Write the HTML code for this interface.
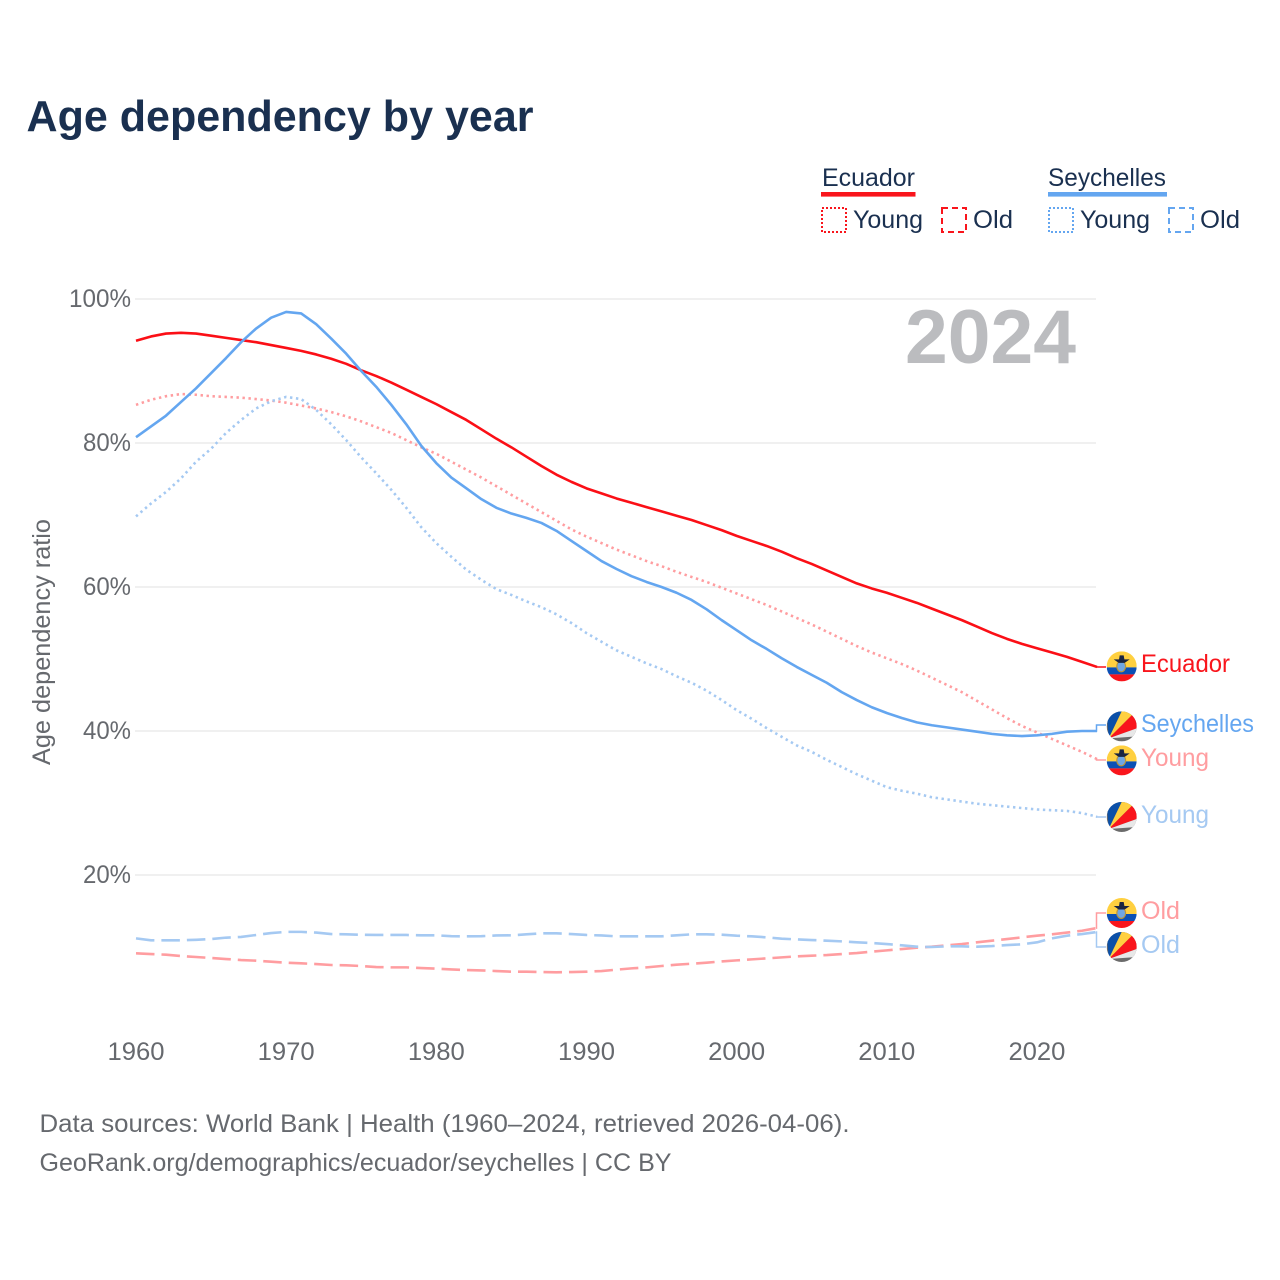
<!DOCTYPE html>
<html lang="en">
<head>
<meta charset="utf-8">
<title>Age dependency by year</title>
<style>
html,body{margin:0;padding:0;background:#fff;width:1280px;height:1280px;overflow:hidden}
svg{display:block}
text{font-family:"Liberation Sans",sans-serif}
.title{font-size:44px;font-weight:bold;fill:#1a3050}
.leg{font-size:25px;fill:#1a3050}
.tick{font-size:25px;fill:#66696e}
.end{font-size:25px}
.src{font-size:25px;fill:#66696e}
</style>
</head>
<body>
<svg id="chart" xmlns="http://www.w3.org/2000/svg" width="1280" height="1280" viewBox="0 0 1280 1280">
  <defs>
    <clipPath id="flag-clip"><circle cx="0" cy="0" r="15"/></clipPath>
    <g id="flag-ec" clip-path="url(#flag-clip)">
      <rect x="-15" y="-15" width="30" height="16" fill="#ffd040"/>
      <rect x="-15" y="1" width="30" height="7" fill="#0b50b5"/>
      <rect x="-15" y="8" width="30" height="7" fill="#f9151c"/>
      <ellipse cx="-0.5" cy="0" rx="5" ry="6" fill="#b9953c"/>
      <ellipse cx="-0.5" cy="0" rx="3.8" ry="4.8" fill="#6fa6e4"/>
      <path d="M-8,-7 L8,-7 L3,-3.5 L-3,-3.5 Z M-2,-11 L2,-11 L3,-5 L-3,-5 Z" fill="#1a2440"/>
    </g>
    <g id="flag-sc" clip-path="url(#flag-clip)">
      <rect x="-15" y="-15" width="30" height="30" fill="#6b6b6b"/>
      <polygon points="-13,12 -15,-15 0,-15" fill="#0b50a8"/>
      <polygon points="-13,12 0,-15 10,-15 10,-11" fill="#ffd040"/>
      <polygon points="-13,12 10,-11 10,-15 15,-15 15,2" fill="#f9151c"/>
      <polygon points="-13,12 15,2 15,10" fill="#e8e8e8"/>
    </g>
  </defs>

  <rect x="0" y="0" width="1280" height="1280" fill="#ffffff"/>
  <text class="title" x="26.5" y="131" textLength="507" lengthAdjust="spacingAndGlyphs">Age dependency by year</text>

  <g>
    <g>
      <text class="leg" x="822" y="186" textLength="93" lengthAdjust="spacingAndGlyphs">Ecuador</text>
      <rect x="821" y="192" width="94.5" height="4.6" fill="#f9151c"/>
      <rect x="822" y="208" width="24" height="24" fill="none" stroke="#f9151c" stroke-width="2" stroke-dasharray="2 2"/>
      <text class="leg" x="853" y="228" textLength="70" lengthAdjust="spacingAndGlyphs">Young</text>
      <rect x="942" y="208" width="24" height="24" fill="none" stroke="#f9151c" stroke-width="2" stroke-dasharray="6 4"/>
      <text class="leg" x="973" y="228" textLength="40" lengthAdjust="spacingAndGlyphs">Old</text>
    </g>
    <g>
      <text class="leg" x="1048" y="186" textLength="118" lengthAdjust="spacingAndGlyphs">Seychelles</text>
      <rect x="1048" y="192" width="119" height="4.6" fill="#64a6f0"/>
      <rect x="1049" y="208" width="24" height="24" fill="none" stroke="#64a6f0" stroke-width="2" stroke-dasharray="2 2"/>
      <text class="leg" x="1080" y="228" textLength="70" lengthAdjust="spacingAndGlyphs">Young</text>
      <rect x="1169" y="208" width="24" height="24" fill="none" stroke="#64a6f0" stroke-width="2" stroke-dasharray="6 4"/>
      <text class="leg" x="1200" y="228" textLength="40" lengthAdjust="spacingAndGlyphs">Old</text>
    </g>
  </g>

  <g id="grid"></g>
  <text x="905" y="363" font-size="76" font-weight="bold" fill="#bbbcbf" textLength="171" lengthAdjust="spacingAndGlyphs">2024</text>
  <g id="yticks"></g>
  <g id="xticks"></g>
  <text class="tick" transform="translate(50,765) rotate(-90)" x="0" y="0" textLength="246" lengthAdjust="spacingAndGlyphs">Age dependency ratio</text>
  <g id="series"></g>
  <g id="connectors"></g>

  <g>
    <use href="#flag-ec" x="1121.7" y="666.4"/>
    <text class="end" x="1141" y="672" fill="#f9151c" textLength="89" lengthAdjust="spacingAndGlyphs">Ecuador</text>
    <use href="#flag-sc" x="1121.7" y="726.4"/>
    <text class="end" x="1141" y="732" fill="#64a6f0" textLength="113" lengthAdjust="spacingAndGlyphs">Seychelles</text>
    <use href="#flag-ec" x="1121.7" y="760.4"/>
    <text class="end" x="1141" y="766" fill="#ff9da0" textLength="68" lengthAdjust="spacingAndGlyphs">Young</text>
    <use href="#flag-sc" x="1121.7" y="817"/>
    <text class="end" x="1141" y="823" fill="#a5c9f2" textLength="68" lengthAdjust="spacingAndGlyphs">Young</text>
    <use href="#flag-ec" x="1121.7" y="913"/>
    <text class="end" x="1141" y="919" fill="#ff9da0" textLength="39" lengthAdjust="spacingAndGlyphs">Old</text>
    <use href="#flag-sc" x="1121.7" y="947"/>
    <text class="end" x="1141" y="953" fill="#a5c9f2" textLength="39" lengthAdjust="spacingAndGlyphs">Old</text>
  </g>

  <text class="src" x="39.5" y="1132" textLength="810" lengthAdjust="spacingAndGlyphs">Data sources: World Bank | Health (1960–2024, retrieved 2026-04-06).</text>
  <text class="src" x="39.5" y="1171" textLength="632" lengthAdjust="spacingAndGlyphs">GeoRank.org/demographics/ecuador/seychelles | CC BY</text>
</svg>

<script>
const startYear = 1960;
const xTickLabels = [1960, 1970, 1980, 1990, 2000, 2010, 2020];
const yTickValues = [100, 80, 60, 40, 20];

const ecuadorTotal = [94.2,94.8,95.2,95.3,95.2,94.9,94.6,94.3,94.0,93.6,93.2,92.8,92.3,91.7,91.0,90.1,89.3,88.4,87.4,86.4,85.4,84.3,83.2,81.9,80.6,79.4,78.1,76.8,75.6,74.6,73.7,73.0,72.3,71.7,71.1,70.5,69.9,69.3,68.6,67.9,67.1,66.4,65.7,64.9,64.0,63.2,62.3,61.4,60.5,59.8,59.2,58.5,57.8,57.0,56.2,55.4,54.5,53.6,52.8,52.1,51.5,50.9,50.3,49.6,48.9];
const ecuadorYoung = [85.3,86.0,86.5,86.8,86.7,86.5,86.4,86.3,86.1,85.9,85.6,85.2,84.8,84.3,83.7,83.0,82.2,81.4,80.4,79.4,78.5,77.4,76.3,75.2,74.0,72.8,71.6,70.4,69.2,68.0,67.0,66.1,65.2,64.4,63.6,62.9,62.1,61.4,60.7,59.9,59.1,58.3,57.5,56.6,55.7,54.8,53.8,52.8,51.8,50.9,50.1,49.3,48.4,47.4,46.4,45.4,44.2,43.0,41.8,40.7,39.8,38.9,38.0,37.1,36.1];
const ecuadorOld = [9.12,9.02,8.93,8.75,8.61,8.47,8.33,8.19,8.10,7.96,7.82,7.73,7.63,7.50,7.45,7.36,7.22,7.17,7.17,7.08,6.99,6.89,6.80,6.75,6.66,6.57,6.57,6.52,6.48,6.52,6.57,6.66,6.85,7.03,7.17,7.36,7.54,7.68,7.82,8.00,8.14,8.28,8.42,8.56,8.70,8.79,8.88,9.02,9.16,9.35,9.53,9.72,9.90,10.04,10.23,10.41,10.65,10.88,11.10,11.34,11.57,11.76,12.00,12.26,12.63];
const seychellesTotal = [80.8,82.3,83.8,85.7,87.6,89.7,91.8,94.0,95.9,97.4,98.2,98.0,96.5,94.5,92.4,90.0,87.8,85.3,82.6,79.6,77.2,75.2,73.7,72.2,71.0,70.2,69.6,68.9,67.8,66.4,65.0,63.6,62.5,61.5,60.7,60.0,59.2,58.2,56.9,55.4,54.0,52.6,51.4,50.1,48.9,47.8,46.7,45.4,44.3,43.3,42.5,41.8,41.2,40.8,40.5,40.2,39.9,39.6,39.4,39.3,39.4,39.6,39.9,40.0,40.0];
const seychellesYoung = [69.8,71.6,73.2,75.1,77.4,79.2,81.4,83.2,84.8,85.8,86.4,86.1,84.6,82.6,80.4,78.0,75.8,73.5,71.0,68.3,66.1,64.2,62.4,61.0,59.7,58.9,58.0,57.2,56.2,55.0,53.6,52.4,51.2,50.3,49.4,48.6,47.6,46.7,45.6,44.3,42.9,41.7,40.4,39.2,38.0,37.1,36.0,35.0,34.0,33.1,32.2,31.7,31.3,30.8,30.5,30.2,29.9,29.7,29.5,29.3,29.1,29.0,28.9,28.6,28.1];
const seychellesOld = [11.20,10.93,10.93,10.93,11.00,11.10,11.30,11.40,11.67,11.94,12.10,12.10,12.00,11.80,11.76,11.70,11.67,11.67,11.67,11.62,11.62,11.50,11.48,11.50,11.60,11.62,11.76,11.90,11.90,11.80,11.67,11.60,11.48,11.48,11.48,11.48,11.62,11.76,11.76,11.71,11.57,11.48,11.34,11.15,11.06,10.97,10.88,10.78,10.65,10.55,10.41,10.23,10.04,10.00,10.09,10.09,10.04,10.13,10.27,10.37,10.65,11.20,11.57,11.80,12.08];

const SVGNS = 'http://www.w3.org/2000/svg';
function xScale(year) { return 136 + (year - 1960) * (1097 - 136) / 64; }
function yScale(value) { return 1019 - value * 7.2; }
function node(tag, parent) {
  const el = document.createElementNS(SVGNS, tag);
  parent.appendChild(el);
  return el;
}

const gridGroup = document.getElementById('grid');
const yTickGroup = document.getElementById('yticks');
yTickValues.forEach(function (v) {
  const line = node('line', gridGroup);
  
  
  line.setAttribute('x1', xScale(1960) - 1);
  line.setAttribute('x2', xScale(2024) - 1);
  line.setAttribute('y1', yScale(v));
  line.setAttribute('y2', yScale(v));
  line.setAttribute('stroke', '#ececec');
  line.setAttribute('stroke-width', '1.6');
  const label = node('text', yTickGroup);
  
  
  label.setAttribute('class', 'tick');
  label.setAttribute('x', 131);
  label.setAttribute('y', yScale(v) + 8);
  label.setAttribute('text-anchor', 'end');
  label.setAttribute('textLength', v === 100 ? 62 : 48);
  label.setAttribute('lengthAdjust', 'spacingAndGlyphs');
  label.textContent = v + '%';
});

const xTickGroup = document.getElementById('xticks');
xTickLabels.forEach(function (yr) {
  const label = node('text', xTickGroup);
  
  
  label.setAttribute('class', 'tick');
  label.setAttribute('x', xScale(yr));
  label.setAttribute('y', 1060);
  label.setAttribute('text-anchor', 'middle');
  label.setAttribute('textLength', 57);
  label.setAttribute('lengthAdjust', 'spacingAndGlyphs');
  label.textContent = yr;
});

function linePath(values) {
  return values.map(function (v, i) {
    return (i ? 'L' : 'M') + xScale(startYear + i).toFixed(2) + ',' + yScale(v).toFixed(2);
  }).join(' ');
}

const seriesGroup = document.getElementById('series');
function drawSeries(name, values, color, width, dash) {
  const path = node('path', seriesGroup);
  
  
  path.setAttribute('d', linePath(values));
  path.setAttribute('fill', 'none');
  path.setAttribute('stroke', color);
  path.setAttribute('stroke-width', width);
  path.setAttribute('stroke-linejoin', 'round');
  if (dash) path.setAttribute('stroke-dasharray', dash);
}
drawSeries('line-ecuador-old', ecuadorOld, '#ff9da0', 2.6, '18.5 7');
drawSeries('line-seychelles-old', seychellesOld, '#a5c9f2', 2.6, '18.5 7');
drawSeries('line-ecuador-young', ecuadorYoung, '#ff9da0', 2.6, '2.4 3.6');
drawSeries('line-seychelles-young', seychellesYoung, '#a5c9f2', 2.6, '2.4 3.6');
drawSeries('line-ecuador-total', ecuadorTotal, '#fb0f16', 2.6, null);
drawSeries('line-seychelles-total', seychellesTotal, '#64a6f0', 2.6, null);

const connectorGroup = document.getElementById('connectors');
function drawConnector(name, values, targetY, color) {
  const startX = xScale(2024);
  const startY = yScale(values[values.length - 1]);
  const path = node('path', connectorGroup);
  
  
  path.setAttribute('d', 'M' + (startX - 1) + ',' + startY + ' L' + (startX - 0.5) + ',' + startY + ' L' + (startX - 0.5) + ',' + targetY + ' L1106,' + targetY);
  path.setAttribute('fill', 'none');
  path.setAttribute('stroke', color);
  path.setAttribute('stroke-width', '1.5');
}
drawConnector('connector-ecuador', ecuadorTotal, 667, '#fb0f16');
drawConnector('connector-seychelles', seychellesTotal, 725, '#64a6f0');
drawConnector('connector-ecuador-young', ecuadorYoung, 760, '#ff9da0');
drawConnector('connector-seychelles-young', seychellesYoung, 817, '#a5c9f2');
drawConnector('connector-ecuador-old', ecuadorOld, 913, '#ff9da0');
drawConnector('connector-seychelles-old', seychellesOld, 947, '#a5c9f2');
</script>
</body>
</html>
